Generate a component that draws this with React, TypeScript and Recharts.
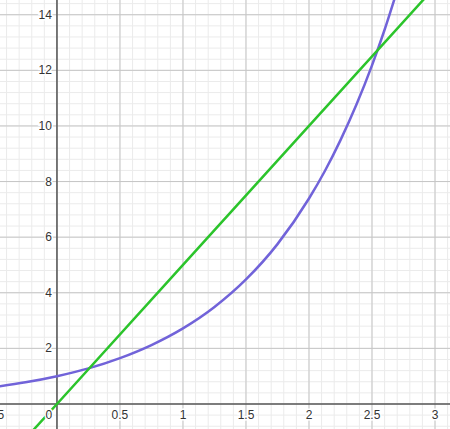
import { LineChart, Line, XAxis, YAxis, ReferenceLine, ReferenceDot } from 'recharts'

// ── Data ──────────────────────────────────────────────────────────────────────

const expX = [-0.5, -0.25, 0, 0.25, 0.5, 0.75, 1, 1.25, 1.5, 1.75, 2, 2.125, 2.25, 2.375, 2.5, 2.6, 2.7]
const expY = [0.61, 0.78, 1.0, 1.28, 1.65, 2.12, 2.72, 3.49, 4.48, 5.75, 7.39, 8.37, 9.49, 10.75, 12.18, 13.46, 14.88]

const linX = [-0.2, 0, 1, 2, 3]
const linY = [-1, 0, 5, 10, 15]

const xTicks = [-0.5, 0, 0.5, 1, 1.5, 2, 2.5, 3]
const xLabels = ['-0.5', '0', '0.5', '1', '1.5', '2', '2.5', '3']
const yTicks = [2, 4, 6, 8, 10, 12, 14]
const yLabels = ['2', '4', '6', '8', '10', '12', '14']

const xMinor = Array.from({ length: 36 }, (_, i) => +(-0.4 + i * 0.1).toFixed(2))
const yMinor = Array.from({ length: 39 }, (_, i) => +(-0.8 + i * 0.4).toFixed(2))

const X_DOMAIN = [-0.452, 3.119]
const Y_DOMAIN = [-0.9, 14.53]

const PURPLE = '#7163d9'
const GREEN = '#2bc42b'
const FONT = 'Liberation Sans, Arial, sans-serif'

const expData = expX.map((x, i) => ({ x, y: expY[i] }))
const linData = linX.map((x, i) => ({ x, y: linY[i] }))

function XLabel({ viewBox, value }: any) {
  const { x, y } = viewBox
  const isZero = value === '0'
  return (
    <text x={isZero ? x - 8 : x} y={y + 15} textAnchor="middle" fontSize={12} fontFamily={FONT} fill="#333"
      stroke="#fff" strokeWidth={3} paintOrder="stroke">{value}</text>
  )
}

function YLabel({ viewBox, value }: any) {
  const { x, y } = viewBox
  return (
    <text x={x - 5} y={y + 4} textAnchor="end" fontSize={12} fontFamily={FONT} fill="#333"
      stroke="#fff" strokeWidth={3} paintOrder="stroke">{value}</text>
  )
}

export default function App() {
  return (
    <div style={{ position: 'absolute', left: 0, top: 0, width: 450, height: 429, background: '#fff' }}>
      <LineChart width={450} height={429} margin={{ top: 0, right: 0, bottom: 0, left: 0 }}>
        <XAxis type="number" dataKey="x" domain={X_DOMAIN} allowDataOverflow hide />
        <YAxis type="number" dataKey="y" domain={Y_DOMAIN} allowDataOverflow hide />

        {xMinor.map(v => <ReferenceLine key={'xm' + v} x={v} stroke="#ebebeb" strokeWidth={1} />)}
        {yMinor.map(v => <ReferenceLine key={'ym' + v} y={v} stroke="#ebebeb" strokeWidth={1} />)}
        {xTicks.map(v => <ReferenceLine key={'xM' + v} x={v} stroke="#c6c6c6" strokeWidth={1} />)}
        {yTicks.map(v => <ReferenceLine key={'yM' + v} y={v} stroke="#c6c6c6" strokeWidth={1} />)}
        <ReferenceLine x={0} stroke="#555" strokeWidth={1.5} />
        <ReferenceLine y={0} stroke="#555" strokeWidth={1.5} />

        {xTicks.map((v, i) => (
          <ReferenceDot key={'xl' + v} x={v} y={0} r={0} stroke="none" fill="none" ifOverflow="visible"
            label={<XLabel value={xLabels[i]} />} />
        ))}
        {yTicks.map((v, i) => (
          <ReferenceDot key={'yl' + v} x={0} y={v} r={0} stroke="none" fill="none"
            label={<YLabel value={yLabels[i]} />} />
        ))}

        <Line data={expData} dataKey="y" type="monotone" stroke={PURPLE} strokeWidth={2.5} dot={false} isAnimationActive={false} />
        <Line data={linData} dataKey="y" type="linear" stroke={GREEN} strokeWidth={2.5} dot={false} isAnimationActive={false} />
      </LineChart>
    </div>
  )
}
